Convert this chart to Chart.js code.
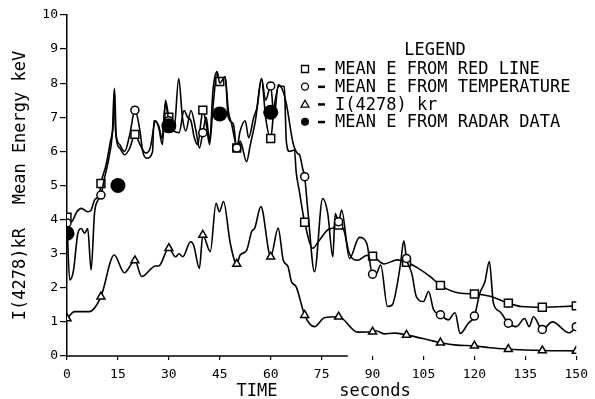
<!DOCTYPE html>
<html>
<head>
<meta charset="utf-8">
<script src="https://cdn.jsdelivr.net/npm/chart.js@4/dist/chart.umd.min.js"></script>
<style>
html,body{margin:0;padding:0;background:#fff;}
#wrap{width:595px;height:399px;position:relative;}
</style>
</head>
<body>
<div id="wrap"><canvas id="c"></canvas></div>
<script>
// ---- DATA ----
const xTicks = [0, 15, 30, 45, 60, 75, 90, 105, 120, 135, 150];
const yTicks = [0,1,2,3,4,5,6,7,8,9,10];

// Mean E from red line (squares)
const redLineT = [0,1.3,2.9,4.2,6.2,7.1,8.1,9.6,10,11.5,12.8,13.6,14,14.5,15.5,17,18.5,20,21.5,23.2,24.5,26.1,27,28.1,29,30,31.5,33,34.5,35.5,36.5,37.5,38.5,39.5,40,41,42,43,44.2,45,46.6,47.5,48.5,49.5,50,51,52.5,53.5,55,56,57.3,58.5,60,61,62.5,64,64.6,65.5,67,67.5,68.5,69.3,70,72.4,74,76.8,78.3,80,81.5,83.2,85.6,88.3,90,93.4,97.3,100,103,107,110,115.8,120,124.6,130,133.8,140,150];
const redLineV = [4.07,3.94,4.23,4.33,4.23,4.28,4.57,4.77,5.06,5.6,6.3,6.8,7.85,6.4,6.1,5.9,6.1,6.5,6.2,5.95,6.1,6.9,6.7,6.2,7.5,7.0,6.6,6.55,7.2,7.0,6.9,6.4,6.2,6.9,7.21,6.8,6.2,7.3,8.3,8.05,8.19,7.2,6.8,6.3,6.1,6.6,6.9,6.4,7.0,7.3,8.14,7.0,6.38,7.3,7.92,7.9,6.3,6.0,6.04,5.4,4.8,4.3,3.92,3.16,3.35,3.7,3.75,3.84,3.7,2.99,2.81,2.95,2.93,2.7,2.82,2.75,2.6,2.33,2.07,1.84,1.82,1.75,1.55,1.45,1.43,1.47];
const redLineMarks = [0,10,20,30,40,45,50,60,70,80,90,100,110,120,130,140,150];

// Mean E from temperature (circles)
const tempT = [0,0.8,1.9,3.2,4.2,5.2,6.1,7.1,8.1,9.1,10,11,12.5,13.4,13.9,14.3,15.5,17,18.5,20,21.5,22.3,23.5,25.2,25.6,27,28,29,30,31.5,32.9,34,35,36.5,38,39,40,41,42,43,44.2,45,46.6,47.5,49,50,51,52.9,54,55.5,57.3,58.5,60,61,62.2,63.5,64.6,66.6,67.9,68.5,69.4,70,71,72.9,75.3,76.8,78.3,79,80,80.9,83.2,86.1,88.3,90,91,92.4,94.4,95.8,98.2,99.2,100,101.6,102.9,105,106.5,108,110,112.3,114.3,115.8,118.2,120,121.6,123.1,124.4,125.6,127.5,130,132.3,134.8,136.1,137.4,140,143,147.9,150];
const tempV = [3.9,2.23,2.5,3.6,3.74,3.6,3.74,2.52,4.18,4.57,4.72,5.2,5.9,6.6,7.8,6.6,6.2,6.0,6.5,7.21,6.6,6.0,5.8,5.99,6.9,6.75,6.38,7.4,6.9,6.6,8.14,7.0,6.6,7.2,6.6,6.1,6.55,7.0,6.3,7.8,8.34,8.0,8.19,7.0,6.8,6.1,6.3,5.7,6.2,6.9,8.14,7.5,7.92,7.0,7.95,7.8,7.4,6.24,5.94,5.9,5.5,5.26,4.2,2.47,4.62,4.18,2.91,4.18,3.94,4.28,2.86,3.48,3.3,2.4,2.4,2.67,1.45,1.5,2.67,3.38,2.86,2.4,1.74,1.6,1.89,1.35,1.21,1.06,1.27,0.66,0.96,1.17,1.84,2.18,2.77,1.55,1.3,0.96,0.86,1.1,0.86,1.15,0.78,1.0,0.68,0.86];
const tempMarks = [0,10,20,30,40,50,60,70,80,90,100,110,120,130,140,150];

// I(4278) kR (triangles)
const i4278T = [0,2.25,6.6,10,13.9,16.9,20,22,26.1,27,30,32,33,34.1,36.4,37.3,39,40,42.2,43.9,44.9,46.1,48.1,50,51,52.9,54.4,55.3,57.1,60,62.2,63.7,65.1,66.1,67.5,70,72.9,75.8,80,85.6,90,91,93.4,96.3,100,110,114.8,120,124.6,130,140,150];
const i4278V = [1.1,1.3,1.3,1.74,2.96,2.44,2.8,2.33,2.64,2.64,3.16,2.91,3.0,2.91,3.35,3.25,2.57,3.55,3.06,4.48,4.23,4.53,3.3,2.7,2.96,3.1,3.65,3.75,4.38,2.91,3.75,2.81,2.62,2.18,2.03,1.2,0.86,1.12,1.15,0.7,0.71,0.74,0.65,0.67,0.62,0.39,0.32,0.30,0.24,0.2,0.16,0.15];
const i4278Marks = [0,10,20,30,40,50,60,70,80,90,100,110,120,130,140,150];

// Mean E from radar data (filled dots)
const radarT = [0,15,30,45,60];
const radarV = [3.6,5.0,6.75,7.1,7.15];

const legendTitle = 'LEGEND';
const legendLabels = ['MEAN E FROM RED LINE','MEAN E FROM TEMPERATURE','I(4278) kr','MEAN E FROM RADAR DATA'];
const yTitleTop = 'Mean Energy keV';
const yTitleBottom = 'I(4278)kR';
const xTitleLeft = 'TIME';
const xTitleRight = 'seconds';

// ---- build ----
const pts = (t, v) => t.map((x, i) => ({x: x, y: v[i]}));
const markRadius = (marks, r) => (ctx) => {
  const raw = ctx.raw;
  return raw && marks.some(m => Math.abs(m - raw.x) < 0.05) ? r : 0;
};
const FONT = "'DejaVu Sans Mono', 'Liberation Mono', monospace";
const LW = 1.6;

const lineBase = {
  borderColor: '#000', borderWidth: LW, showLine: true, fill: false,
  cubicInterpolationMode: 'monotone',
  pointBorderColor: '#000', pointBackgroundColor: '#fff', pointBorderWidth: 1.5,
  pointHoverRadius: 0
};

const datasets = [
  Object.assign({}, lineBase, {label: legendLabels[0], data: pts(redLineT, redLineV), pointStyle: 'rect', pointRadius: markRadius(redLineMarks, 5.6), order: 3}),
  Object.assign({}, lineBase, {label: legendLabels[1], data: pts(tempT, tempV), pointStyle: 'circle', pointRadius: markRadius(tempMarks, 4), order: 2}),
  Object.assign({}, lineBase, {label: legendLabels[2], data: pts(i4278T, i4278V), pointStyle: 'triangle', pointRadius: markRadius(i4278Marks, 4.6), order: 4}),
  {label: legendLabels[3], data: pts(radarT, radarV), showLine: false, pointStyle: 'circle', pointRadius: 7.5,
   pointBackgroundColor: '#000', pointBorderColor: '#000', pointBorderWidth: 0, pointHoverRadius: 7.5, order: 1}
];

const decor = {
  id: 'decor',
  afterDraw(chart) {
    const ctx = chart.ctx, xs = chart.scales.x, ys = chart.scales.y;
    ctx.save();
    // partial x axis line (as in the reference)
    ctx.strokeStyle = '#000'; ctx.lineWidth = 1.5;
    ctx.beginPath();
    ctx.moveTo(xs.getPixelForValue(0) - 1, ys.bottom);
    ctx.lineTo(xs.getPixelForValue(82.7), ys.bottom);
    ctx.stroke();
    // axis titles
    ctx.fillStyle = '#000';
    ctx.font = '17px ' + FONT;
    ctx.textBaseline = 'alphabetic';
    ctx.textAlign = 'center';
    ctx.fillText(xTitleLeft, 257, 396);
    ctx.fillText(xTitleRight, 375, 396);
    ctx.save();
    ctx.translate(25, ys.getPixelForValue(6.7));
    ctx.rotate(-Math.PI / 2);
    ctx.textAlign = 'center';
    ctx.fillText(yTitleTop, 0, 0);
    ctx.restore();
    ctx.save();
    ctx.translate(25, ys.getPixelForValue(2.4));
    ctx.rotate(-Math.PI / 2);
    ctx.textAlign = 'center';
    ctx.fillText(yTitleBottom, 0, 0);
    ctx.restore();
    // legend
    ctx.textAlign = 'center';
    ctx.textBaseline = 'middle';
    ctx.fillText(legendTitle, 435, 51);
    const styles = ['rect', 'circle', 'triangle', 'dot'];
    legendLabels.forEach((lab, i) => {
      const y = 69 + i * 17.6;
      const mx = 305;
      ctx.lineWidth = 1.3; ctx.strokeStyle = '#000'; ctx.fillStyle = '#000';
      ctx.beginPath();
      if (styles[i] === 'rect') { ctx.rect(mx - 3.5, y - 3.5, 7, 7); ctx.stroke(); }
      else if (styles[i] === 'circle') { ctx.arc(mx, y, 3.5, 0, Math.PI * 2); ctx.stroke(); }
      else if (styles[i] === 'triangle') { ctx.moveTo(mx, y - 4); ctx.lineTo(mx + 4, y + 3); ctx.lineTo(mx - 4, y + 3); ctx.closePath(); ctx.stroke(); }
      else { ctx.arc(mx, y, 4, 0, Math.PI * 2); ctx.fill(); }
      ctx.fillRect(318, y - 1, 7, 2.5);
      ctx.textAlign = 'left';
      ctx.fillText(lab, 335, y + 1);
    });
    ctx.restore();
  }
};

new Chart(document.getElementById('c'), {
  type: 'scatter',
  data: {datasets},
  plugins: [decor],
  options: {
    responsive: true, maintainAspectRatio: false, animation: false,
    events: [],
    layout: {padding: {top: 15, right: 13, left: 0, bottom: 0}},
    plugins: {legend: {display: false}, tooltip: {enabled: false}},
    scales: {
      x: {
        type: 'linear', min: 0, max: 150,
        afterBuildTicks: (s) => { s.ticks = xTicks.map(v => ({value: v})); },
        afterFit: (s) => { s.height = 43; },
        border: {display: false},
        grid: {drawOnChartArea: false, drawTicks: true, tickLength: 4, tickColor: '#000', lineWidth: 1.2},
        ticks: {color: '#000', padding: 7, maxRotation: 0, autoSkip: false, font: {family: FONT, size: 13}}
      },
      y: {
        type: 'linear', min: 0, max: 10,
        afterBuildTicks: (s) => { s.ticks = yTicks.map(v => ({value: v})); },
        afterFit: (s) => { s.width = 67; },
        border: {display: true, color: '#000', width: 1.5},
        grid: {drawOnChartArea: false, drawTicks: true, tickLength: 7, tickColor: '#000', lineWidth: 1.2},
        ticks: {color: '#000', padding: 2, autoSkip: false, font: {family: FONT, size: 13}}
      }
    }
  }
});
</script>
</body>
</html>
